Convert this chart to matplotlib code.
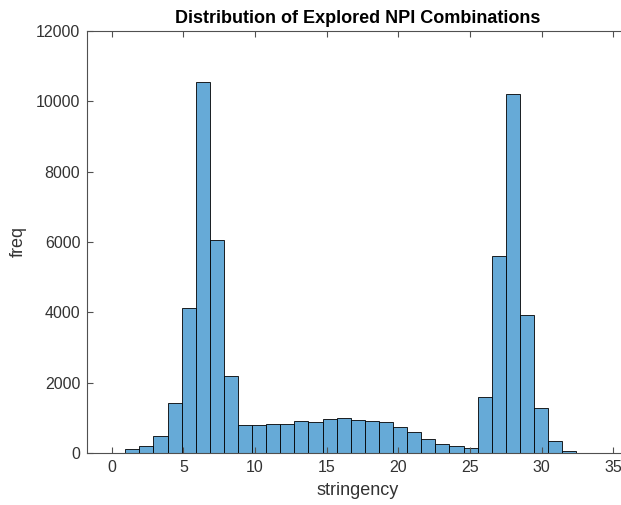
import numpy as np
import matplotlib.pyplot as plt

# histogram counts per bin (32 bins)
counts = [104, 190, 470, 1430, 4123, 10549, 6056, 2181, 807, 800,
          835, 835, 919, 891, 976, 1005, 948, 919, 891, 749,
          588, 408, 265, 190, 152, 1592, 5611, 10217, 3924, 1289,
          332, 57]
bin_lo = 0.95
bin_hi = 32.42

plt.rcParams['font.family'] = ['Liberation Sans', 'DejaVu Sans']

edges = np.linspace(bin_lo, bin_hi, len(counts) + 1)

fig = plt.figure(figsize=(6.21, 5.05), dpi=100)
# right edge of the box sits past the image border, as in the original
ax = fig.add_axes([0.1406, 0.103, 0.8695, 0.8356])

ax.bar(edges[:-1], counts, width=np.diff(edges), align='edge',
       color=(0.4, 0.668, 0.845), edgecolor='black', linewidth=0.6)

ax.set_xlim(-1.7, 35.98)
ax.set_ylim(0, 12000)
ax.set_xticks(range(0, 36, 5))
ax.set_yticks(range(0, 12001, 2000))

axis_col = '#505050'
label_col = '#333333'
for s in ax.spines.values():
    s.set_color(axis_col)
    s.set_linewidth(0.8)
ax.spines['right'].set_visible(False)
ax.tick_params(direction='in', top=True, right=False, length=4,
               width=0.8, color=axis_col, labelcolor=label_col,
               labelsize=11.5, pad=5)

ax.set_xlabel('stringency', fontsize=13, color=label_col, labelpad=5)
ax.set_ylabel('freq', fontsize=13, color=label_col, labelpad=7)
ax.set_title('Distribution of Explored NPI Combinations', fontsize=13,
             fontweight='bold', color='black', pad=6)

fig.savefig('out.png', dpi=100)
